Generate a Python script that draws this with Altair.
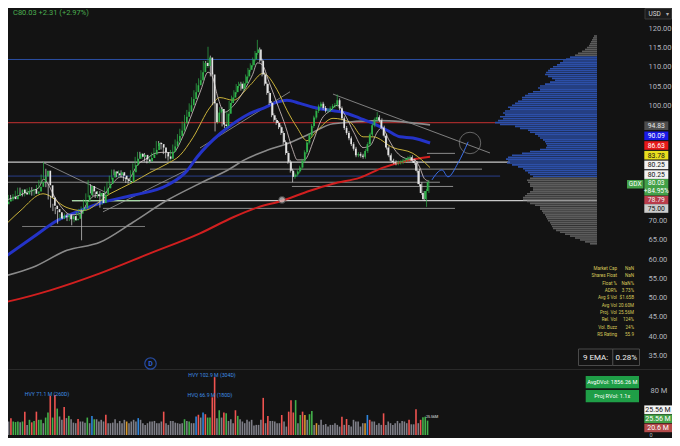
import altair as alt
import pandas as pd

# ---------------- data ----------------
close = [74.3, 75.0, 75.6, 76.2, 75.6, 76.4, 77.3, 78.1, 77.2, 76.8,
         77.6, 77.9, 78.2, 77.0, 77.6, 78.8, 80.1, 81.5, 83.0, 79.2,
         76.0, 73.9, 73.0, 72.2, 70.6, 71.3, 70.9, 71.4, 70.4, 71.2,
         70.1, 70.5, 71.8, 72.6, 73.2, 75.0, 76.6, 79.0, 77.6, 76.9,
         76.4, 77.2, 74.6, 76.8, 78.4, 79.6, 81.2, 82.8, 82.3, 81.8,
         82.6, 81.7, 80.8, 80.3, 80.1, 82.6, 84.4, 86.1, 87.4, 86.6,
         87.1, 85.9, 85.4, 86.3, 87.2, 88.4, 90.2, 89.9, 89.0, 87.8,
         86.7, 86.1, 87.9, 89.3, 90.6, 92.0, 93.4, 95.3, 97.0, 98.3,
         100.0, 101.6, 103.4, 105.2, 106.5, 108.6, 111.0, 110.2, 112.4, 108.0,
         100.5, 95.6, 98.1, 99.0, 95.0, 94.6, 97.8, 100.6, 102.0, 103.4,
         105.0, 105.6, 104.3, 105.7, 107.5, 109.2, 110.4, 111.9, 113.6, 114.5,
         111.6, 108.0, 105.6, 103.2, 100.6, 97.4, 96.2, 95.4, 94.3, 92.8,
         90.4, 87.6, 85.3, 83.0, 81.4, 82.0, 82.8, 83.8, 85.6, 87.8,
         90.3, 92.2, 94.6, 96.8, 98.5, 99.7, 100.4, 99.3, 98.6, 98.7,
         99.2, 99.8, 100.1, 101.3, 99.2, 96.6, 94.1, 92.8, 91.4, 89.9,
         88.7, 87.0, 87.3, 86.9, 86.6, 88.1, 89.9, 92.4, 94.8, 96.3,
         96.9, 96.1, 94.2, 92.1, 89.0, 87.0, 85.6, 85.2, 84.9, 85.1,
         85.2, 85.6, 85.8, 86.2, 86.5, 85.6, 85.0, 83.0, 79.5, 77.2,
         75.6, 77.72, 80.03]
first_open = 74.0
high_marks = {18: 85.2, 37: 80.6, 88: 115.2, 109: 117.0, 143: 102.8, 160: 98.2}
low_marks = {24: 69.2, 30: 68.8, 42: 73.4, 91: 93.2, 124: 80.0, 181: 73.6}

volume_m = [28, 24, 30, 24, 23, 24, 22.5, 24, 41.5, 18,
            27, 22.5, 25, 41.5, 27, 27, 21, 31, 40, 70,
            31, 71, 47, 33, 27, 50, 30, 34, 28, 22,
            21, 28.5, 24, 24, 22, 31, 21, 34, 28, 28,
            24, 27, 24, 36, 21, 21, 22, 28, 21, 25,
            21, 27, 24, 21, 24, 27, 24, 30, 27, 21,
            18, 21, 24, 24, 25, 21, 21, 24, 41.5, 21,
            18, 25, 25, 22, 21, 20, 21, 28, 25, 24,
            21, 21, 33, 36, 31, 40, 37, 31, 31, 67,
            102.9, 30, 44, 31, 40, 38.5, 25, 28, 21, 44,
            34, 28, 24, 21, 27, 24, 27,
            17, 18, 18, 27, 66, 21, 34, 25, 25, 24,
            21, 21, 35.6, 24, 15, 41.5, 62, 40, 62, 21,
            35.6, 41.5, 35.6, 27, 37, 42.7, 18, 21, 18, 27,
            18, 19.6, 15, 18, 18, 21, 18, 15, 32.6, 18,
            28.4, 18, 15, 27, 24, 24, 15, 21, 21, 35.6,
            27, 24, 24, 18, 21, 18, 38.5, 18, 24, 21,
            18, 21, 25, 21, 25, 24, 21, 27, 19, 19,
            45.6, 21, 27, 31.4, 32.6, 25.56]
volume_kind = "".join([
    "rgrGGGgGrg", "GrGrGGgGGr", "GrGggrgGgg", "grgggGgbGg", "gggrgggggg",
    "ggoggggbgg", "ggggggggrg", "gggggggGgG", "ggbrgbrGGr", "rgGgrGgggr",
    "Ggggggg",
    "ggggrgrggg", "ggrggrrrGg", "GrogGGgogg", "ggggggggrg", "rgggggggob",
    "rgggggrggg", "gggggggrgg", "rgrGGG"])

ma50 = [(-0.5, 59.7), (13.5, 65.7), (23.7, 70.0), (33.5, 72.6), (43.3, 74.8), (56.1, 76.6),
        (70.6, 79.2), (79.1, 83.0), (83.3, 86.5), (93.1, 92.6), (98.7, 95.2), (105.9, 97.9),
        (111.4, 99.2), (117.4, 100.8), (121.6, 101.3), (127.1, 100.5), (132.7, 99.5),
        (139.9, 98.7), (145.4, 98.2), (152.7, 96.6), (158.2, 95.3), (164.2, 93.5),
        (169.7, 91.8), (175.2, 91.5), (182.5, 90.2)]
ma100 = [(-0.5, 55.3), (13.5, 57.9), (28.0, 62.3), (42.0, 64.4), (56.1, 69.6), (70.6, 75.3),
         (84.6, 79.7), (97.4, 83.5), (102.9, 85.6), (113.1, 88.3), (121.6, 90.0),
         (131.4, 92.6), (141.2, 95.2), (161.2, 96.0), (182.5, 94.9)]
ma200 = [(-0.5, 48.6), (5.0, 49.3), (20.8, 51.9), (42.0, 56.3), (63.3, 61.5), (84.6, 66.7),
         (98.7, 70.9), (108.9, 73.4), (119.5, 75.2), (131.4, 77.8), (141.2, 79.6),
         (152.7, 81.2), (162.5, 83.8), (172.7, 85.6), (182.5, 86.6)]
ema21 = [(-0.5, 67.5), (8.0, 72.5), (17.8, 77.0), (28.0, 73.4), (34.8, 72.6), (46.3, 77.0),
         (56.1, 80.0), (63.3, 82.5), (70.6, 84.8), (76.1, 87.0), (81.6, 91.6), (88.9, 99.5),
         (93.1, 102.0), (98.7, 101.3), (105.9, 105.2), (111.4, 108.3), (117.4, 104.0),
         (121.6, 98.7), (125.9, 94.2), (130.1, 90.8), (134.4, 93.4), (141.2, 96.6),
         (148.4, 95.6), (154.0, 91.8), (158.2, 91.8), (166.7, 89.0), (175.2, 87.5),
         (182.5, 83.8)]
ema9 = [(0, 74.8), (6, 76.2), (12, 77.6), (16, 78.6), (18, 80.8), (20, 79.5), (22, 77.0),
        (25, 74.0), (30, 71.5), (34, 72.0), (37, 75.0), (40, 76.5), (43, 76.5), (47, 79.5),
        (51, 81.4), (54, 80.8), (58, 84.5), (62, 86.2), (66, 87.6), (70, 87.8), (73, 87.6),
        (77, 91.5), (81, 97.5), (85, 104.0), (88, 108.6), (90, 107.2), (92, 102.5),
        (95, 98.2), (99, 100.0), (103, 103.5), (107, 108.0), (109, 111.0), (111, 110.6),
        (114, 106.0), (118, 99.5), (121, 94.5), (124, 88.5), (126, 85.8), (129, 85.8),
        (133, 91.0), (136, 96.0), (140, 98.6), (143, 100.0), (146, 97.8), (150, 93.0),
        (154, 89.0), (157, 89.5), (160, 93.0), (162, 94.2), (165, 91.0), (168, 88.0),
        (172, 86.2), (176, 85.8), (178, 84.0), (180, 81.0), (182, 80.25)]

profile_top = 118.0
profile_step = 0.5
profile_w = [3, 4, 5, 6, 7, 8, 10, 12, 15, 19, 22, 27, 31, 34, 37, 40, 44, 47, 49, 51,
             52, 49, 45, 42, 47, 52, 57, 59, 57, 64, 69, 72, 75, 75, 79, 82, 85, 89, 87, 92,
             94, 92, 97, 94, 99, 102, 97, 82, 77, 69, 67, 62, 59, 57, 54, 52, 51, 50, 51, 57,
             67, 75, 85, 89, 91, 89, 90, 85, 79, 74, 72, 69, 67, 64, 67, 70, 69, 67, 67, 64,
             64, 67, 70, 72, 74, 74, 70, 67, 62, 57, 57, 55, 54, 52, 51, 50, 49, 47, 46, 45,
             44, 41, 37, 32, 27, 22, 17, 12, 7]

level_price = [111.9, 95.5, 85.2, 83.4, 81.6, 80.0, 78.9, 75.2, 75.2, 73.2, 68.5, 87.5]
trend_pts = [((17.4, 85.25), (45.0, 77.2)), ((43.3, 72.3), (79.1, 83.2)),
             ((84.6, 88.9), (122.9, 103.5)), ((141.2, 102.9), (208.0, 87.6))]
proj_path = [(183.3, 80.6), (187.6, 83.2), (190.1, 81.4), (194.4, 85.0), (198.7, 90.5)]

# 75 to 95 are hidden behind the price tags in the reference
price_ticks = [35, 40, 45, 50, 55, 60, 65, 70, 100, 105, 110, 115, 120]
vol_ticks = [80]
right_tags = ["94.83", "90.09", "86.63", "83.78", "80.25", "80.25", "78.79", "75.00"]
info_labels = ["Market Cap", "Shares Float", "Float %", "ADR%", "Avg $ Vol", "Avg Vol",
               "Proj. Vol", "Rel. Vol", "Vol. Buzz", "RS Rating"]
info_values = ["NaN", "NaN", "NaN%", "3.73%", "$1.65B", "20.60M", "25.56M", "124%", "24%", "55.9"]

# ---------------- layout / style ----------------
BG = "#131313"
W, H = 664, 430
FONT = "Roboto"
def L(x):  # reference pixel x -> chart pixel x
    return x - 8
def T(y):
    return y - 8

X_DOM = [(8 - 1.2) / 2.35, (672 - 1.2) / 2.35]
P_DOM = [120 - (438 - 28.3) / 3.848, 120 + (28.3 - 8) / 3.848]
V_DOM = [(435 - 438) / 0.5625, (435 - 8) / 0.5625]
xs = alt.Scale(domain=X_DOM, nice=False, zero=False)
ys = alt.Scale(domain=P_DOM, nice=False, zero=False)
vs = alt.Scale(domain=V_DOM, nice=False, zero=False)
prof_scale = alt.Scale(domain=[-75, 589], reverse=True, nice=False, zero=False)

UP, DN = "#2fb24a", "#e4e4e4"
WICK_PAD = 0.5

# ---------------- tables ----------------
opens = [first_open] + close[:-1]
highs = [high_marks.get(k, max(o, c) + WICK_PAD) for k, (o, c) in enumerate(zip(opens, close))]
lows = [low_marks.get(k, min(o, c) - WICK_PAD) for k, (o, c) in enumerate(zip(opens, close))]
cdf = pd.DataFrame({"i": range(len(close)), "open": opens, "close": close, "high": highs, "low": lows})

kind_color = {"g": "#7f7f88", "r": "#ef5350", "G": "#43b04a", "b": "#2e86de", "o": "#d89a2e"}
n_v = min(len(volume_m), len(volume_kind))
vdf = pd.DataFrame({"i": list(range(n_v)), "v": volume_m[:n_v],
                    "c": [kind_color[k] for k in volume_kind[:n_v]]})

pprice = [profile_top - profile_step * k for k in range(len(profile_w))]
pdf = pd.DataFrame({"w": profile_w, "p": pprice})
pdf["lo"] = pdf["p"] - 0.21
pdf["hi"] = pdf["p"] + 0.21
pdf["c"] = ["#2c4fa8" if 81.5 <= p <= 112.5 else "#5c5c5c" for p in pprice]

level_span = [(-0.5, 253.5), (-0.5, 253.5), (-0.5, 216.5), (63.3, 204.6), (-0.5, 212.3),
              (-0.5, 186.7), (123.7, 192.3), (30.1, 253.5), (30.1, 59.1), (43.3, 193.1),
              (8.9, 61.2), (181.2, 193.1)]
level_style = [("#2b4fa3", 1.0), ("#a02a2a", 1.2), ("#c8c8c8", 1.2), ("#8c8c8c", 1.0),
               ("#2a3f8a", 1.0), ("#8c8c8c", 1.0), ("#8c8c8c", 1.0), ("#c8c8c8", 1.2),
               ("#a6d8a6", 1.2), ("#8c8c8c", 1.0), ("#7a7a7a", 1.0), ("#8c8c8c", 1.0)]
ldf = pd.DataFrame({"p": level_price, "i0": [s[0] for s in level_span], "i1": [s[1] for s in level_span],
                    "c": [s[0] for s in level_style], "w": [s[1] for s in level_style]})

tdf = pd.DataFrame({"i0": [a[0] for a, b in trend_pts], "p0": [a[1] for a, b in trend_pts],
                    "i1": [b[0] for a, b in trend_pts], "p1": [b[1] for a, b in trend_pts]})

# ---------------- layers ----------------
price_axis = alt.Axis(orient="right", values=price_ticks, format=".2f", offset=-24, labelPadding=0,
                      ticks=False, tickSize=0, domain=False, grid=False, labelColor="#b2b5be",
                      labelFontSize=7.5, labelFont=FONT, labelAlign="left", title=None)
vol_axis = alt.Axis(orient="right", values=vol_ticks, offset=-22, labelPadding=0, ticks=False,
                    tickSize=0, domain=False, grid=False, labelColor="#b2b5be", labelFontSize=7.5,
                    labelFont=FONT, labelAlign="left", title=None,
                    labelExpr="datum.value + ' M'")

def X(field="i:Q"):
    return alt.X(field, scale=xs, axis=None)

def Y(field, axis=None):
    return alt.Y(field, scale=ys, axis=axis)

levels = alt.Chart(ldf).mark_rule().encode(
    x=X("i0:Q"), x2="i1:Q", y=Y("p:Q"),
    color=alt.Color("c:N", scale=None), strokeWidth=alt.StrokeWidth("w:Q", scale=None))

profile = alt.Chart(pdf).mark_rect().encode(
    x=alt.X("w:Q", scale=prof_scale, axis=None), x2=alt.datum(0),
    y=Y("lo:Q"), y2="hi:Q", color=alt.Color("c:N", scale=None))

trends = alt.Chart(tdf).mark_rule(color="#9a9a9a", strokeWidth=0.8).encode(
    x=X("i0:Q"), y=Y("p0:Q"), x2="i1:Q", y2="p1:Q")

def ma_layer(pts, color, width, opacity=1.0):
    d = pd.DataFrame({"i": [a for a, b in pts], "v": [b for a, b in pts]})
    return alt.Chart(d).mark_line(color=color, strokeWidth=width, opacity=opacity,
                                  interpolate="monotone").encode(x=X(), y=Y("v:Q"))

l200 = ma_layer(ma200, "#d11f1f", 2.0)
l100 = ma_layer(ma100, "#8a8a8a", 1.6)
l50 = ma_layer(ma50, "#2433c8", 3.0)
l21 = ma_layer(ema21, "#c9b23a", 1.0)
l9 = ma_layer(ema9, "#d8c8c8", 0.9, 0.9)

proj = ma_layer(proj_path, "#3a6ee8", 1.0)

ccol = alt.condition("datum.close >= datum.open", alt.value(UP), alt.value(DN))
wicks = alt.Chart(cdf).mark_rule(strokeWidth=0.7).encode(
    x=X(), y=Y("low:Q"), y2="high:Q", color=ccol)
bodies = alt.Chart(cdf).mark_bar(size=1.7).encode(
    x=X(), y=Y("open:Q", price_axis), y2="close:Q", color=ccol)

vol = alt.Chart(vdf).mark_bar(size=1.6).encode(
    x=X(), y=alt.Y("v:Q", scale=vs, axis=vol_axis), y2=alt.datum(0),
    color=alt.Color("c:N", scale=None))

one = pd.DataFrame({"k": [0]})
ring = alt.Chart(pd.DataFrame({"i": [199.5], "p": [90.2]})).mark_point(
    shape="circle", size=460, filled=False, color="#8a8a8a", strokeWidth=1).encode(x=X(), y=Y("p:Q"))
icon = alt.Chart(pd.DataFrame({"i": [119.5], "p": [75.4]})).mark_point(
    shape="circle", size=45, filled=True, color="#d8d8d8", stroke="#555555", strokeWidth=1
).encode(x=X(), y=Y("p:Q"))
arrow = alt.Chart(pd.DataFrame({"i": [34.2], "p0": [64.9], "p1": [72.7]})).mark_rule(
    color="#bdbdbd", strokeWidth=0.8).encode(x=X(), y=Y("p0:Q"), y2="p1:Q")
arrow_head = alt.Chart(pd.DataFrame({"i": [34.2], "p": [72.6]})).mark_point(
    shape="triangle-up", size=14, filled=True, color="#bdbdbd").encode(x=X(), y=Y("p:Q"))

sep1 = alt.Chart(one).mark_rule(color="#2a2a2a", strokeWidth=1).encode(
    x=alt.value(0), x2=alt.value(W), y=alt.value(T(369.5)))
sep2 = alt.Chart(one).mark_rule(color="#2a2a2a", strokeWidth=1).encode(
    x=alt.value(0), x2=alt.value(W), y=alt.value(T(440.5)))

# ---------------- boxes and texts (pixel layout) ----------------
def rects(rows, stroke=None):
    d = pd.DataFrame(rows, columns=["x0", "x1", "y0", "y1", "c"])
    kw = {} if stroke is None else {"stroke": stroke, "strokeWidth": 1}
    return alt.Chart(d).mark_rect(**kw).encode(
        x=alt.X("x0:Q", scale=None), x2="x1:Q", y=alt.Y("y0:Q", scale=None), y2="y1:Q",
        color=alt.Color("c:N", scale=None))

def texts(rows, align="center", weight="normal", baseline="middle"):
    d = pd.DataFrame(rows, columns=["x", "y", "t", "c", "fs"])
    return alt.Chart(d).mark_text(align=align, baseline=baseline, font=FONT, fontWeight=weight).encode(
        x=alt.X("x:Q", scale=None), y=alt.Y("y:Q", scale=None), text="t:N",
        color=alt.Color("c:N", scale=None), size=alt.Size("fs:Q", scale=None))

tag_style = [("#4d4d4d", "#e6e6e6", 125.7), ("#1a1ae6", "#ffffff", 135.8), ("#e61919", "#ffffff", 145.5),
             ("#e8de1f", "#111111", 155.2), ("#f2f2f2", "#111111", 164.9), ("#f2f2f2", "#111111", 174.6),
             ("#b83c4a", "#f2f2f2", 200.0), ("#cccccc", "#111111", 208.5)]
tag_rects = [(L(644.3), L(668.3), T(yc - 4.3), T(yc + 4.3), bg) for bg, fg, yc in tag_style]
tag_rects += [(L(644.3), L(668.3), T(179.0), T(195.5), "#43a047"),
              (L(627.0), L(643.5), T(180.0), T(188.5), "#43a047")]
tag_texts = [(L(656.3), T(yc + 0.3), t, fg, 6.8) for t, (bg, fg, yc) in zip(right_tags, tag_style)]
tag_texts += [(L(656.3), T(183.3), "80.03", "#ffffff", 6.6), (L(656.3), T(191.4), "+84.95%", "#ffffff", 6.6),
              (L(635.2), T(184.3), "GDX", "#ffffff", 6.5)]

vol_rects = [(L(644.3), L(672), T(405.4), T(414.0), "#f4f4f4"),
             (L(644.3), L(672), T(414.4), T(423.0), "#43a047"),
             (L(644.3), L(672), T(423.6), T(432.2), "#b34a4a"),
             (L(585.7), L(639.0), T(376.0), T(388.3), "#1f9e47"),
             (L(585.7), L(639.0), T(390.0), T(402.3), "#1f9e47")]
vol_texts = [(L(658), T(409.8), "25.56 M", "#111111", 7), (L(658), T(418.8), "25.56 M", "#ffffff", 7),
             (L(658), T(428.0), "20.6 M", "#ffffff", 7),
             (L(612.3), T(382.2), "AvgDVol: 1856.26 M", "#ffffff", 5.6),
             (L(612.3), T(396.2), "Proj RVol: 1.1x", "#ffffff", 5.6)]
zero_text = [(L(649.5), T(437.9), "0", "#b2b5be", 5.5)]

ema_box = rects([(L(578.5), L(612.8), T(349.0), T(365.5), BG),
                 (L(612.8), L(639.5), T(349.0), T(365.5), BG)], stroke="#4a4a4a")
ema_texts = [(L(595.6), T(357.5), "9 EMA:", "#f0f0f0", 8), (L(626.3), T(357.5), "0.28%", "#f0f0f0", 8)]

usd_box = rects([(L(645.0), L(671.5), T(8.5), T(19.0), "#1c1c1c")], stroke="#3a3a3a")
usd_texts = [(L(648.5), T(13.8), "USD", "#d6d6d6", 6.5), (L(665.5), T(13.8), "▾", "#b0b0b0", 6)]

top_texts = [(L(13.0), T(12.5), "C80.03  +2.31 (+2.97%)", "#4caf50", 7.5)]

info_rows_l = [(L(617.0), T(269.0 + 7.33 * k), s, "#d8c95a", 4.6) for k, s in enumerate(info_labels)]
info_rows_v = [(L(634.0), T(269.0 + 7.33 * k), s, "#d8c95a", 4.6) for k, s in enumerate(info_values)]

vol_notes = [(L(47.0), T(393.5), "HVY 71.1 M (260D)", "#3f8fe6", 5.2),
             (L(212.0), T(375.0), "HVY 102.9 M (304D)", "#3f8fe6", 5.2),
             (L(210.0), T(395.0), "HVQ 66.9 M (180D)", "#3f8fe6", 5.2),
             (L(432.0), T(417.0), "25.56M", "#e6e6e6", 3.6)]

d_ring = alt.Chart(one).mark_point(shape="circle", size=130, filled=False, color="#2f62d8",
                                   strokeWidth=1.2).encode(x=alt.value(L(150.5)), y=alt.value(T(363.5)))
d_text = texts([(L(150.5), T(363.8), "D", "#2f62d8", 7)], weight="bold")

chart = alt.layer(
    levels, profile, trends, l200, l100, l50, l21, l9, proj, wicks, bodies, ring, icon,
    arrow, arrow_head, vol, sep1, sep2,
    rects(tag_rects), texts(tag_texts),
    rects(vol_rects), texts(vol_texts), texts(zero_text, align="left", baseline="bottom"),
    ema_box, texts(ema_texts),
    usd_box, texts(usd_texts, align="left"),
    texts(top_texts, align="left"),
    texts(info_rows_l, align="right"), texts(info_rows_v, align="right"),
    texts(vol_notes), d_ring, d_text,
).resolve_scale(
    x="independent", y="independent"
).properties(
    width=W, height=H, autosize=alt.AutoSizeParams(type="none"), padding=0, background=BG
).configure_view(stroke=None)

chart.save("out.html", embed_options={"renderer": "svg", "actions": False})
